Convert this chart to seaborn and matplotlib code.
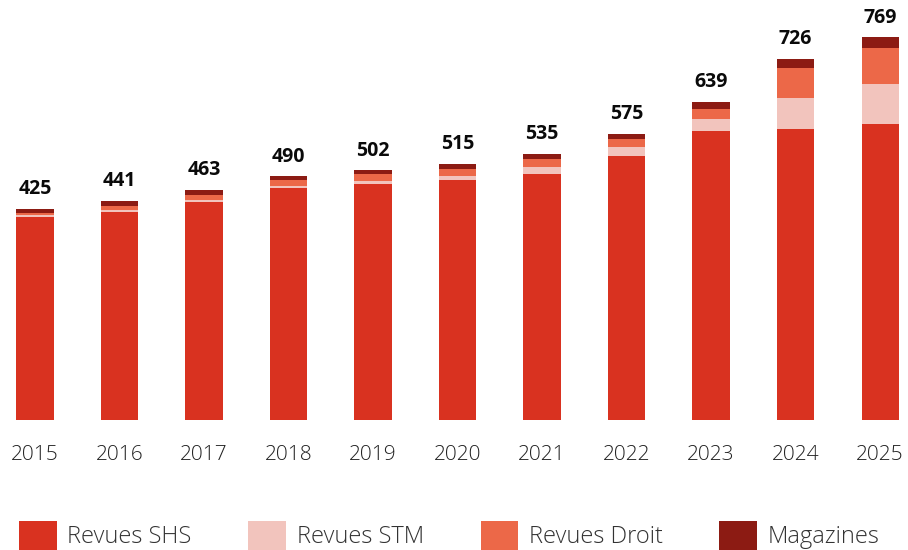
import matplotlib
matplotlib.use('Agg')
import matplotlib.pyplot as plt
import seaborn as sns
import pandas as pd
from matplotlib.patches import Patch

years = ["2015", "2016", "2017", "2018", "2019", "2020", "2021", "2022", "2023", "2024", "2025"]
revues_shs = [408, 419, 439, 466, 474, 483, 495, 531, 581, 584, 595]
revues_stm = [4, 4, 4, 4, 6, 8, 14, 18, 24, 64, 80]
revues_droit = [4, 8, 10, 12, 14, 14, 16, 16, 20, 60, 72]
magazines = [9, 10, 10, 8, 8, 10, 10, 10, 14, 18, 22]
totals = [425, 441, 463, 490, 502, 515, 535, 575, 639, 726, 769]

series_names = ["Revues SHS", "Revues STM", "Revues Droit", "Magazines"]
colors = {
    "Revues SHS": "#D93220",
    "Revues STM": "#F2C4BD",
    "Revues Droit": "#EC6848",
    "Magazines": "#8C1B13",
}

df = pd.DataFrame({
    "year": years,
    "shs": revues_shs,
    "stm": revues_stm,
    "droit": revues_droit,
    "mag": magazines,
})
# cumulative heights, drawn from the tallest down so the layers stack
df["c_mag"] = df["shs"] + df["stm"] + df["droit"] + df["mag"]
df["c_droit"] = df["shs"] + df["stm"] + df["droit"]
df["c_stm"] = df["shs"] + df["stm"]
df["c_shs"] = df["shs"]

sns.set_style("white")
plt.rcParams['font.family'] = ['Open Sans', 'DejaVu Sans']

fig = plt.figure(figsize=(9.08, 5.5), dpi=100)
ax = fig.add_axes([0, 130 / 550, 1, 398 / 550])

for col, name in [("c_mag", "Magazines"), ("c_droit", "Revues Droit"),
                  ("c_stm", "Revues STM"), ("c_shs", "Revues SHS")]:
    sns.barplot(data=df, x="year", y=col, color=colors[name], width=0.44,
                saturation=1, linewidth=0, ax=ax)

for i, total in enumerate(totals):
    ax.annotate(f"{total}", xy=(i, df["c_mag"][i]), xytext=(0, 7),
                textcoords="offset points", ha="center", va="bottom",
                fontsize=14, fontweight="bold", color="#0a0a0a", annotation_clip=False)

ax.set_xlim(-0.414, 10.33)
ax.set_ylim(0, 800)
ax.set_xlabel("")
ax.set_ylabel("")
ax.set_yticks([])
ax.tick_params(axis="x", length=0, pad=18, labelsize=15, colors="#222222")
for lbl in ax.get_xticklabels():
    lbl.set_fontweight("light")
sns.despine(ax=ax, left=True, bottom=True)

handles = [Patch(facecolor=colors[n], edgecolor="none", label=n) for n in series_names]
leg = fig.legend(handles=handles, loc="lower left", bbox_to_anchor=(19 / 908, 0.5 / 550),
                 ncol=4, frameon=False, fontsize=17, handlelength=1.6, handleheight=1.5,
                 handletextpad=0.45, columnspacing=2.4, borderpad=0, borderaxespad=0)
for t in leg.get_texts():
    t.set_color("#333333")
    t.set_fontweight("light")

fig.savefig("out.png", dpi=100)
